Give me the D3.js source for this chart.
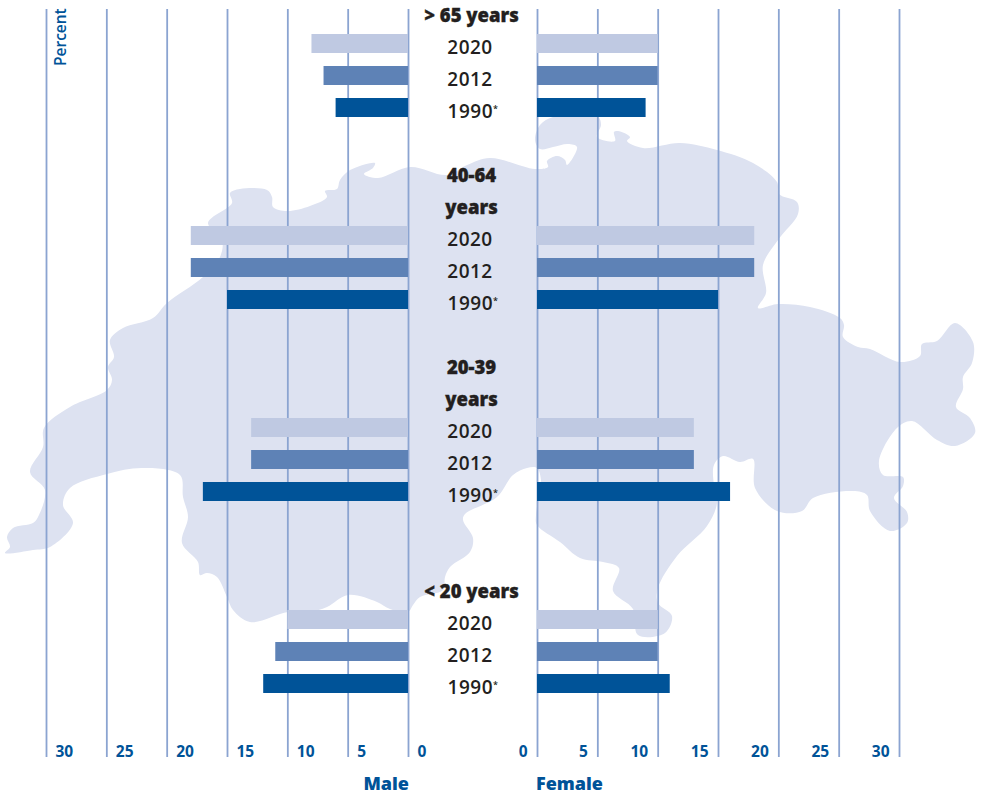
<!DOCTYPE html>
<html>
<head>
<meta charset="utf-8">
<script src="https://cdn.jsdelivr.net/npm/d3@7/dist/d3.min.js"></script>
<style>
html,body{margin:0;padding:0;background:#fff}
svg{display:block}
text{font-family:"Open Sans",sans-serif}
</style>
</head>
<body>
<svg id="chart" width="982" height="794"></svg>
<script>
// ---- data ----
const ageGroups = [["> 65 years"], ["40-64", "years"], ["20-39", "years"], ["< 20 years"]];
const years = ["2020", "2012", "1990"];
const male2020 = [8, 18, 13, 10];
const male2012 = [7, 18, 13, 11];
const male1990 = [6, 15, 17, 12];
const female2020 = [10, 18, 13, 10];
const female2012 = [10, 18, 13, 10];
const female1990 = [9, 15, 16, 11];
const tickValues = [0, 5, 10, 15, 20, 25, 30];
const yearColors = ["#bfc9e2", "#5e82b6", "#005398"];

// ---- background map outline (decorative silhouette, page pixels) ----
const mapOutline = [[5,553],[10,547],[7,537],[13,528],[33,523],[38,517],[45,490],[30,472],[43,447],[44,428],[70,407],[107,390],[112,380],[108,367],[114,357],[110,340],[123,328],[153,318],[167,303],[203,277],[220,257],[222,240],[208,223],[232,203],[230,193],[240,189],[267,190],[272,197],[273,207],[287,211],[310,206],[327,197],[325,191],[337,189],[340,180],[350,170],[375,163],[373,168],[364,174],[378,178],[410,167],[447,175],[467,165],[490,158],[535,169],[548,167],[547,161],[557,156],[565,160],[567,165],[577,147],[568,144],[553,147],[540,149],[535,140],[540,125],[553,117],[598,117],[601,125],[597,137],[615,141],[614,132],[618,131],[630,137],[627,141],[643,148],[680,143],[717,150],[753,163],[777,182],[779,194],[797,202],[798,214],[778,240],[763,265],[766,293],[758,308],[778,304],[810,307],[840,318],[844,325],[843,337],[858,347],[870,349],[900,362],[920,356],[922,344],[937,341],[955,323],[973,342],[972,363],[963,377],[963,389],[956,407],[970,418],[975,433],[955,446],[937,440],[912,421],[897,428],[879,461],[883,475],[903,477],[903,486],[894,498],[907,512],[907,523],[890,531],[870,511],[867,495],[853,491],[813,498],[802,511],[777,511],[755,488],[753,459],[740,462],[723,456],[714,465],[714,486],[717,503],[707,526],[677,556],[658,588],[658,603],[672,616],[665,633],[638,635],[633,609],[613,591],[619,568],[603,562],[580,558],[560,542],[537,525],[536,515],[540,490],[541,480],[537,468],[527,468],[513,475],[497,497],[465,514],[463,520],[473,538],[470,552],[450,567],[445,577],[443,590],[420,597],[413,605],[408,612],[390,609],[377,602],[348,595],[327,607],[310,612],[288,612],[250,622],[233,610],[227,597],[217,577],[207,573],[200,575],[198,562],[182,543],[188,517],[183,497],[180,475],[142,468],[107,474],[70,488],[63,505],[73,523],[50,547],[33,550]];

// ---- scales ----
const xMale = d3.scaleLinear().domain([0, 30]).range([408, 46]);
const xFemale = d3.scaleLinear().domain([0, 30]).range([537, 899]);
const rowY = d3.scaleLinear().domain([0, 1]).range([21, 53]); // layout row bottom
const GRID_TOP = 9, AXIS_Y = 757, BAR_H = 19, CENTER = 470, TEXT_DY = 0.8;
const INK = "#231f20", BLUE = "#005398", GRID = "#8ba4d1";

const svg = d3.select("#chart");

// map
svg.append("path")
  .attr("d", d3.line().curve(d3.curveCatmullRomClosed.alpha(0.5))(mapOutline))
  .attr("fill", "#dde2f1");

// axes (grid lines + tick labels)
function drawAxis(scale, anchor, dx) {
  const g = svg.append("g").attr("transform", `translate(0,${AXIS_Y})`)
    .call(d3.axisBottom(scale).tickValues(tickValues).tickSize(-(AXIS_Y - GRID_TOP)).tickPadding(0));
  g.select(".domain").remove();
  g.selectAll(".tick line").attr("stroke", GRID).attr("stroke-width", 1.8);
  g.selectAll(".tick text")
    .attr("text-anchor", anchor).attr("x", dx).attr("y", 0).attr("dy", 0)
    .attr("fill", BLUE).attr("font-size", 15.5).attr("font-weight", 700)
    .attr("font-family", '"Open Sans",sans-serif');
}
drawAxis(xMale, "start", 9);
drawAxis(xFemale, "end", -10);

// layout rows
const maleSeries = [male2020, male2012, male1990];
const femaleSeries = [female2020, female2012, female1990];
const gapRows = [1, 1, 2, 0];
let row = 0;
ageGroups.forEach((lines, gi) => {
  lines.forEach(line => {
    svg.append("text").attr("x", CENTER + 1.5).attr("y", rowY(row) + TEXT_DY)
      .attr("text-anchor", "middle").attr("fill", INK)
      .attr("font-size", 18.5).attr("font-weight", 800)
      .attr("stroke", INK).attr("stroke-width", 0.35).text(line);
    row++;
  });
  years.forEach((yr, yi) => {
    const base = rowY(row);
    const mv = maleSeries[yi][gi], fv = femaleSeries[yi][gi];
    svg.append("rect").attr("x", xMale(mv)).attr("y", base - BAR_H)
      .attr("width", xMale(0) - xMale(mv)).attr("height", BAR_H).attr("fill", yearColors[yi]);
    svg.append("rect").attr("x", xFemale(0)).attr("y", base - BAR_H)
      .attr("width", xFemale(fv) - xFemale(0)).attr("height", BAR_H).attr("fill", yearColors[yi]);
    const t = svg.append("text").attr("y", base + TEXT_DY).attr("fill", INK)
      .attr("text-anchor", "middle").attr("font-size", 19).attr("font-weight", 600)
      .attr("letter-spacing", 0.5);
    if (yr === "1990") {
      t.attr("x", CENTER + 3);
      t.append("tspan").text(yr);
      t.append("tspan").text("*").attr("font-size", 9).attr("dy", -6);
    } else {
      t.attr("x", CENTER).text(yr);
    }
    row++;
  });
  row += gapRows[gi];
});

// Percent
svg.append("text").attr("transform", "translate(65.5,66) rotate(-90)")
  .attr("fill", BLUE).attr("font-size", 15.5).attr("font-weight", 600).text("Percent");

// Male / Female
svg.append("text").attr("x", 409).attr("y", 790).attr("text-anchor", "end")
  .attr("fill", BLUE).attr("font-size", 18).attr("font-weight", 800).text("Male");
svg.append("text").attr("x", 536).attr("y", 790)
  .attr("fill", BLUE).attr("font-size", 18).attr("font-weight", 800).text("Female");
</script>
</body>
</html>
